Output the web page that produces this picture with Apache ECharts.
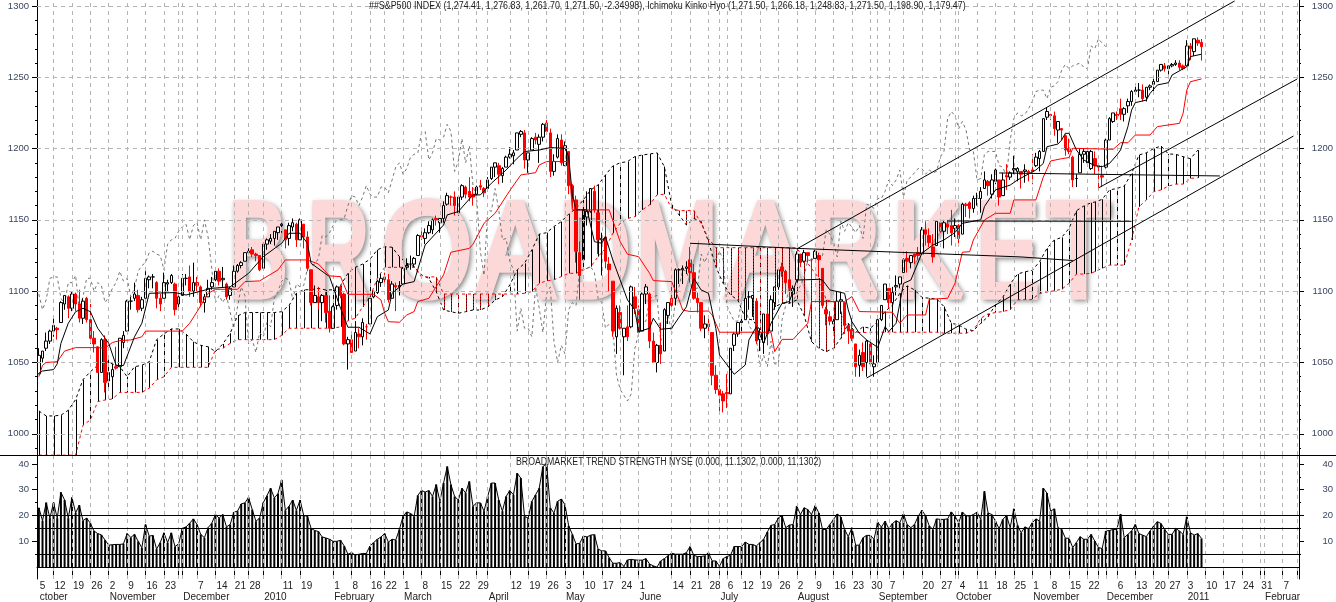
<!DOCTYPE html>
<html><head><meta charset="utf-8">
<style>html,body{margin:0;padding:0;background:#fff;overflow:hidden}#c{width:1336px;height:602px}</style>
<script src="https://cdn.jsdelivr.net/npm/echarts@6/dist/echarts.min.js"></script>
</head><body><div id="c"></div>
<script>
const open=[
1042,1053,1060,1065,1072,1074,1078,1091,1096,1088,
1098,1091,1081,1095,1080,1067,1061,1043,1066,1037,
1040,1047,1047,1064,1072,1093,1095,1097,1088,1095,
1108,1110,1106,1095,1095,1105,1106,1105,1091,1097,
1109,1110,1100,1106,1103,1092,1096,1103,1108,1114,
1108,1105,1097,1103,1114,1118,1121,1127,1129,1126,
1125,1116,1133,1135,1137,1141,1146,1143,1137,1145,
1147,1136,1147,1138,1115,1092,1096,1092,1097,1086,
1074,1090,1103,1098,1063,1066,1058,1070,1068,1075,
1077,1096,1099,1106,1110,1108,1095,1104,1103,1105,
1117,1119,1119,1125,1139,1137,1141,1143,1151,1148,
1151,1161,1166,1166,1155,1166,1173,1170,1168,1168,
1174,1172,1172,1179,1187,1188,1181,1187,1194,1195,
1199,1210,1211,1192,1199,1208,1203,1208,1218,1211,
1184,1194,1206,1188,1198,1174,1164,1127,1122,1152,
1156,1170,1155,1136,1138,1119,1107,1068,1085,1068,
1075,1075,1096,1087,1072,1098,1098,1065,1050,1062,
1058,1083,1095,1095,1115,1115,1116,1122,1113,1095,
1092,1074,1077,1071,1041,1031,1028,1029,1028,1062,
1070,1078,1080,1096,1095,1093,1066,1064,1084,1072,
1092,1103,1117,1114,1108,1098,1108,1126,1121,1127,
1122,1123,1125,1116,1087,1082,1077,1080,1093,1092,
1076,1073,1063,1048,1057,1050,1063,1047,1050,1080,
1094,1102,1092,1103,1105,1113,1123,1120,1126,1127,
1126,1143,1139,1131,1132,1148,1142,1147,1146,1144,
1146,1140,1161,1162,1158,1165,1165,1172,1177,1168,
1177,1178,1167,1181,1180,1185,1184,1184,1184,1184,
1185,1188,1193,1198,1222,1224,1223,1213,1214,1209,
1200,1194,1179,1183,1196,1190,1186,1193,1188,1181,
1187,1206,1219,1224,1228,1224,1230,1233,1240,1241,
1241,1236,1243,1245,1247,1255,1258,1256,1258,1259,
1260,1258,1258,1272,1268,1276,1274.41];
const close=[
1055,1058,1065,1072,1076,1073,1092,1097,1088,1098,
1091,1081,1093,1080,1067,1063,1043,1066,1036,1043,
1045,1046,1067,1069,1093,1093,1098,1087,1094,1109,
1110,1110,1095,1091,1106,1106,1111,1087,1096,1109,
1109,1100,1106,1104,1092,1096,1102,1106,1114,1107,
1109,1096,1102,1114,1118,1120,1127,1128,1126,1125,
1115,1133,1136,1137,1142,1145,1147,1136,1146,1148,
1136,1150,1138,1116,1092,1097,1092,1097,1085,1074,
1089,1103,1097,1063,1066,1057,1071,1068,1078,1075,
1095,1100,1107,1109,1108,1094,1105,1103,1104,1116,
1118,1119,1123,1139,1138,1141,1146,1150,1150,1151,
1160,1167,1166,1160,1166,1174,1168,1166,1166,1173,
1173,1169,1178,1187,1190,1182,1186,1194,1196,1197,
1211,1212,1192,1197,1207,1206,1208,1217,1212,1184,
1191,1207,1190,1202,1174,1165,1128,1111,1157,1156,
1172,1157,1136,1137,1121,1115,1072,1088,1074,1074,
1068,1103,1088,1071,1098,1103,1065,1050,1062,1056,
1087,1092,1090,1115,1115,1116,1117,1113,1095,1092,
1074,1077,1075,1041,1031,1027,1023,1028,1060,1070,
1078,1079,1095,1096,1097,1065,1071,1084,1070,1094,
1103,1115,1114,1106,1102,1102,1126,1120,1127,1125,
1122,1128,1122,1090,1084,1079,1079,1093,1094,1076,
1072,1067,1047,1055,1047,1065,1049,1049,1080,1090,
1105,1092,1099,1104,1110,1122,1121,1125,1124,1125,
1143,1140,1134,1124,1149,1142,1148,1145,1141,1146,
1137,1161,1160,1158,1165,1165,1170,1178,1174,1178,
1185,1166,1178,1180,1183,1186,1186,1182,1185,1183,
1184,1194,1198,1221,1226,1223,1214,1219,1213,1199,
1198,1178,1179,1196,1198,1198,1198,1188,1187,1180,
1206,1221,1225,1223,1224,1228,1233,1240,1241,1241,
1235,1243,1244,1247,1255,1259,1256,1258,1259,1260,
1257,1256,1272,1270,1277,1274,1271.5];
const low=[
1042,1050,1058,1063,1068,1066,1078,1087,1081,1086,
1086,1078,1077,1078,1063,1057,1043,1043,1029,1030,
1033,1045,1047,1060,1072,1087,1093,1085,1086,1095,
1102,1102,1088,1086,1095,1100,1105,1083,1088,1097,
1104,1096,1096,1100,1089,1085,1096,1101,1107,1104,
1103,1094,1094,1103,1113,1116,1121,1126,1124,1121,
1114,1116,1129,1133,1132,1136,1141,1130,1132,1142,
1131,1136,1130,1114,1090,1092,1087,1079,1078,1071,
1074,1087,1095,1062,1045,1057,1058,1060,1062,1066,
1077,1095,1098,1103,1106,1092,1095,1086,1097,1105,
1115,1115,1117,1125,1136,1133,1140,1140,1146,1141,
1148,1160,1160,1153,1153,1164,1165,1163,1160,1165,
1171,1166,1170,1178,1180,1175,1176,1187,1193,1189,
1199,1208,1186,1183,1199,1203,1190,1205,1210,1180,
1181,1193,1188,1188,1168,1158,1120,1094,1122,1146,
1155,1155,1126,1111,1116,1100,1068,1056,1073,1041,
1065,1074,1084,1070,1072,1091,1060,1050,1043,1049,
1058,1077,1089,1090,1105,1105,1112,1106,1094,1085,
1072,1067,1071,1034,1028,1015,1015,1018,1028,1058,
1068,1072,1080,1087,1082,1063,1058,1056,1062,1072,
1087,1101,1110,1098,1094,1089,1108,1117,1120,1120,
1107,1123,1110,1088,1076,1076,1069,1080,1084,1070,
1063,1065,1040,1040,1044,1040,1048,1040,1050,1079,
1094,1088,1090,1097,1102,1113,1113,1116,1119,1122,
1126,1132,1131,1120,1132,1141,1130,1140,1132,1138,
1131,1140,1152,1151,1155,1160,1155,1172,1167,1165,
1175,1160,1167,1171,1178,1182,1177,1172,1176,1177,
1175,1187,1184,1198,1220,1220,1209,1204,1206,1195,
1196,1173,1173,1183,1190,1188,1185,1182,1173,1173,
1186,1206,1218,1220,1220,1219,1225,1230,1238,1236,
1233,1233,1241,1240,1247,1254,1254,1252,1257,1258,
1255,1255,1258,1262,1265,1272,1261.7];
const high=[
1060,1058,1071,1073,1081,1075,1093,1097,1097,1100,
1099,1101,1095,1096,1091,1072,1061,1067,1069,1052,
1046,1061,1067,1072,1094,1096,1106,1101,1096,1114,
1111,1112,1107,1098,1113,1108,1112,1106,1097,1112,
1112,1118,1120,1110,1104,1098,1108,1110,1116,1116,
1117,1106,1103,1118,1119,1121,1127,1130,1131,1127,
1125,1134,1137,1140,1142,1145,1150,1143,1148,1151,
1148,1151,1147,1142,1115,1104,1103,1098,1100,1097,
1090,1104,1104,1099,1068,1071,1079,1074,1081,1077,
1095,1100,1108,1112,1113,1112,1107,1106,1107,1117,
1123,1125,1124,1140,1142,1144,1149,1151,1153,1151,
1163,1169,1167,1170,1167,1175,1174,1180,1173,1174,
1178,1173,1180,1187,1190,1190,1187,1195,1201,1199,
1211,1213,1213,1197,1208,1211,1210,1218,1220,1214,
1196,1210,1210,1205,1198,1175,1167,1135,1164,1170,
1172,1174,1157,1141,1148,1124,1107,1090,1090,1074,
1090,1104,1103,1090,1099,1105,1099,1071,1063,1078,
1088,1092,1105,1116,1116,1118,1121,1131,1119,1099,
1092,1083,1082,1071,1048,1034,1030,1042,1060,1071,
1078,1082,1100,1100,1097,1095,1074,1084,1087,1097,
1103,1115,1120,1115,1115,1104,1128,1126,1129,1127,
1123,1129,1127,1116,1089,1086,1081,1100,1100,1092,
1076,1081,1063,1059,1064,1066,1065,1055,1083,1090,
1105,1102,1103,1111,1110,1123,1128,1125,1126,1131,
1145,1149,1144,1140,1149,1150,1150,1150,1157,1151,
1147,1162,1162,1163,1167,1169,1173,1184,1178,1182,
1186,1178,1183,1189,1184,1195,1187,1184,1189,1185,
1196,1197,1199,1221,1229,1224,1226,1219,1214,1210,
1207,1195,1182,1200,1200,1199,1199,1198,1188,1188,
1207,1222,1225,1226,1235,1229,1235,1241,1246,1246,
1245,1243,1245,1250,1255,1259,1260,1258,1260,1262,
1262,1259,1276,1274,1277,1278,1276.83];
const tenkan=[[0,1042.4],[1,1044],[4,1045],[5,1049],[6,1063.4],[8,1077.5],[10,1085.6],[12,1088],[14,1085.6],[16,1074],[18,1067],[19,1063.4],[21,1048],[23,1047.8],[26,1068],[28,1077.5],[30,1098.5],[37,1099],[40,1097.3],[47,1102],[52,1103],[57,1112.5],[61,1124.2],[66,1133.6],[68,1140.6],[71,1140.6],[73,1133.6],[74,1119.5],[79,1110.2],[82,1088],[84,1074.7],[87,1074.7],[90,1070],[92,1082.1],[95,1086.8],[96,1098.5],[99,1105],[102,1106.7],[105,1132.4],[110,1146.4],[111,1153.5],[114,1155.8],[118,1167.5],[120,1167.5],[123,1175.7],[127,1185],[130,1193.2],[132,1197.9],[136,1199],[139,1200.7],[143,1200.2],[144,1194.4],[145,1167.5],[146,1157],[149,1157],[151,1134.7],[153,1133.6],[154,1138.3],[156,1121.9],[160,1093.8],[162,1086.8],[163,1071.6],[166,1074],[167,1081],[169,1073.3],[172,1074],[174,1081.7],[176,1089],[178,1109],[180,1100.9],[182,1098.5],[184,1073.9],[185,1055.3],[189,1041.7],[192,1048.2],[193,1065.8],[195,1075],[197,1063.4],[199,1077.5],[202,1091.5],[204,1092.7],[206,1107.8],[212,1108.3],[213,1107.8],[215,1100.9],[219,1098.5],[220,1086.8],[221,1078.6],[223,1070.5],[225,1065.8],[228,1060.6],[230,1075.1],[231,1071.6],[233,1077.5],[234,1091.5],[235,1105.5],[237,1107.8],[240,1126.6],[243,1132.4],[246,1135.9],[249,1141.1],[251,1147.6],[256,1150],[257,1159.3],[260,1171],[264,1174.4],[266,1178],[271,1185],[273,1189.6],[274,1201.3],[277,1203.2],[278,1206],[279,1210.7],[280,1210.7],[282,1199],[284,1192],[287,1188],[289,1187.3],[291,1189.6],[293,1195.5],[294,1199],[296,1215.4],[297,1227],[298,1232.2],[301,1234],[302,1238.7],[304,1244.6],[307,1246.2],[308,1251.6],[312,1257.4],[313,1264.5],[316,1266.18]];
const kijun=[[0,1040],[1,1048],[2,1050],[5,1050.5],[7,1058],[10,1060.4],[16,1060.4],[18,1060],[20,1064],[22,1065.3],[25,1065.8],[28,1068],[29,1072],[39,1072],[41,1077.5],[43,1085.6],[46,1098.5],[48,1101.3],[54,1101.3],[56,1106.7],[60,1107.2],[65,1114.9],[67,1121.9],[73,1121.9],[76,1119],[79,1110.7],[82,1110.2],[84,1097.8],[91,1097.8],[93,1093.8],[94,1084.5],[95,1078.6],[98,1078.2],[100,1083.3],[102,1085.7],[103,1092.7],[106,1095],[110,1111.4],[112,1127.3],[117,1130],[118,1132.9],[121,1147.6],[124,1154.6],[128,1170.5],[131,1181.5],[135,1183.1],[136,1188.5],[138,1190.9],[144,1190.9],[145,1157],[155,1157],[158,1134.7],[160,1125.9],[163,1124.2],[166,1112.5],[167,1107.4],[172,1106.7],[174,1094],[175,1086.8],[177,1085.7],[182,1086.1],[183,1083.3],[185,1071.2],[199,1071.2],[200,1057.6],[202,1066.2],[205,1066.2],[209,1077.5],[210,1092.7],[219,1092.7],[221,1096.2],[223,1085.7],[232,1085.2],[234,1077.5],[236,1083.3],[241,1083.3],[242,1094.3],[247,1095],[249,1105.5],[251,1127.3],[253,1127.7],[254,1135.9],[257,1149.9],[260,1154.6],[264,1154.6],[265,1164],[271,1164],[273,1180],[275,1191.3],[278,1192.9],[280,1193.7],[281,1200.2],[292,1199.5],[294,1204.1],[296,1204.1],[298,1209.5],[302,1209.5],[304,1215.4],[310,1217.7],[311,1224.7],[312,1241],[313,1246.9],[316,1248.83]];
const spanA=[
1016,1012.5,1012.5,1013,1016.5,1024,1038,1043.5,1048,1051,
1049,1047,1040,1047,1048,1050.5,1066,1070,1073.5,1073.5,
1070,1064.5,1062,1061,1057.6,1063,1070.5,1082.6,1085,1085,
1085,1085,1085,1085.6,1090,1098.5,1101,1101,1102,1100.8,
1101,1104,1112.5,1116.7,1119,1122.4,1129,1131.2,1130.8,1124.2,
1119.5,1117.2,1111.4,1109,1099.7,1086.8,1085.6,1084.5,1085.6,1086.8,
1086.8,1089,1093.8,1096,1104.4,1114.9,1119.5,1128.9,1140,1141,
1145.3,1148.8,1154,1158,1164,1171,1174.5,1181.5,1187.8,1190,
1190.9,1194.4,1195.5,1196.2,1197,1187.4,1160.5,1153.5,1146.4,1151,
1148.8,1134.7,1117.2,1105.5,1097.3,1093.8,1081,1079.8,1072.8,1070.5,
1089,1091.5,1091.5,1093.8,1083,1064.6,1060,1057.6,1060,1067,
1077.4,1071,1075,1074,1078.7,1085.7,1090.3,1098.5,1103.7,1100.9,
1095.7,1095,1094.6,1089.2,1077.5,1076.3,1073.3,1072.3,1077.5,1082.2,
1090.3,1095.7,1105,1112,1113.6,1114.6,1120.7,1130,1135.9,1137.7,
1144,1156.4,1159.7,1162,1162.5,1164.4,1171,1172,1173.7,1182.6,
1195.5,1197,1200,1201.8,1196.2,1196,1194.3,1192.9,1198.9];
const spanB=[
985,985,985,985,985,985,1006,1009.7,1022.5,1023.7,
1024.4,1029,1029,1029,1029,1032,1037.7,1040,1046.6,1046.6,
1046.6,1046.6,1046.6,1046.6,1058.8,1060,1063.4,1066,1066,1066,
1066,1066,1066,1069,1074,1074,1074,1074,1074,1074,
1074,1075,1079.3,1081,1089,1096,1109,1116.7,1116.7,1116.7,
1116.7,1116.7,1110,1110,1110,1098,1098,1098,1098,1098,
1098,1098,1098,1098,1098,1098,1098.5,1099.7,1105.5,1107.2,
1108,1110.2,1112.5,1112.5,1114.9,1117.2,1124.2,1130,1140.6,1147.6,
1151,1152.3,1157,1160.5,1167.5,1168,1158,1156.5,1156.5,1156.5,
1147.6,1137,1130.5,1130.5,1130.5,1130.5,1130.5,1130.5,1130.5,1130.5,
1130.5,1130.5,1130.5,1130.3,1123,1116,1109,1093.8,1092.6,1085.6,
1072.8,1071,1071,1071.2,1071.2,1071.2,1071.2,1071.2,1071.2,1071.2,
1071.2,1071.2,1071.2,1070.5,1070.5,1070.5,1070.5,1072.3,1081,1084,
1085,1085.7,1087,1093.9,1094.2,1094.2,1098.4,1099.4,1100.3,1101.3,
1105.5,1112,1112,1112.5,1113.7,1116,1118.3,1118.3,1118.3,1135.9,
1159.2,1163.9,1169.8,1171,1173.7,1175.1,1175.1,1179.1,1179.47];
const strength=[
23,18,25,19,25,19,29,26,19,27,
21,24,18,19,17,14,13,12.5,10.5,8.5,
8.7,8.8,8.8,9,13,11.5,12.7,10,7.5,16.5,
12,12.3,7,9.5,13.3,9.5,13.3,8,9,15,
15.6,17,18.7,16.5,12.7,11.4,15.3,17,20.4,19,
20.4,15.6,16.5,21.3,21.7,24.5,24.9,27,22.3,17.8,
19,25,27.7,30.6,26.8,28.5,33.8,22,23.6,26,
22,26,20,19.7,15,14.2,13.8,11.7,11.3,10.8,
10,10,10.4,8.2,5,5.6,4.7,5,5.3,5.3,
8.2,9.5,10.8,11.7,13,9.7,10.8,10.5,14.6,19.7,
21.4,20.8,19.7,27.8,29.7,29.1,29.7,27.4,32,25.5,
32.6,39,32,27.4,26,30.6,28.7,33.2,23.6,24.9,
24.9,21.7,27.4,32.6,32.6,26,21.7,27.4,29.7,28,
36.4,34.5,19.7,19,25.5,28,30.6,39,40,23,
21,25.5,26.4,24.2,16,12.7,9,9.2,12,11.7,
12.4,12.6,7,6.3,6.3,3.7,1.5,1.5,1.8,0.3,
2.8,3,2.8,2.7,2.7,3.3,1.2,0.5,0,2.4,
3.3,4.4,5.4,5,5,5,5.6,8,4.6,4.1,
4.1,4.4,5.6,2.4,2.4,0.3,3.3,4.1,4.6,8,
8,7.9,9.7,8.8,8.8,8.2,9.5,10.8,13.6,16.2,
16.5,19.1,20,15.3,16.3,16.5,23.6,20.4,23,22.3,
20.4,23.8,21,14.6,14.6,16.5,18.5,20.6,19.4,14.6,
11.8,15.3,8.5,8.5,11.4,12.3,12.3,10.8,17.4,15.5,
17.8,14.9,16.9,18,17.2,20.6,16.5,15.3,16.5,19.7,
22,20,16,14.6,18.7,18.5,18.5,18.7,21.4,19.7,
17.2,21.3,20,19.7,20.4,21.3,18.5,29.4,21,20.4,
17.8,14.9,18.5,20,15.3,22.6,16.2,13.3,15.6,14.9,
17.2,18.7,17.8,30.6,28.7,21.7,22.6,15.3,14.6,11.2,
11.2,7.6,9.5,11.8,10.8,10.8,12.7,10.1,7.6,7.2,
14,14.2,14.6,14.6,20.6,11.4,12.7,14,16.5,13,
12.4,11.8,14,15.9,17.6,16.9,14.6,12.7,12.7,15,
14,12.7,19.5,13.3,12.4,13,11.1302];
const channels=[
 [[206,1129.6],[325,1303.5]],
 [[288,1172.4],[342,1248.8]],
 [[225,1039.1],[341,1208.8]],
 [[177,1133.6],[206,1130],[267,1124],[281,1121.5]],
 [[247,1149.2],[297,1149]],
 [[261,1182.9],[321,1180.8]]
];
const dayTicks=[[0,'5'],[4,'12'],[9,'19'],[14,'26'],[19,'2'],[24,'9'],[29,'16'],[34,'23'],[38,''],[39,''],[43,'7'],[48,'14'],[53,'21'],[57,'28'],[61,''],[66,'11'],[71,'19'],[80,'1'],[85,'8'],[90,'16'],[94,'22'],[99,'1'],[104,'8'],[109,'15'],[114,'22'],[119,'29'],[122,''],[128,'12'],[133,'19'],[138,'26'],[143,'3'],[148,'10'],[153,'17'],[158,'24'],[163,'1'],[172,'14'],[177,'21'],[182,'28'],[185,''],[187,'6'],[191,'12'],[196,'19'],[201,'26'],[206,'2'],[211,'9'],[216,'16'],[221,'23'],[226,'30'],[228,''],[231,'7'],[235,''],[240,'20'],[245,'27'],[249,''],[250,'4'],[255,'11'],[260,'18'],[265,'25'],[270,'1'],[275,'8'],[280,'15'],[285,'22'],[288,''],[290,''],[293,'6'],[298,'13'],[303,'20'],[307,'27'],[312,'3'],[317,'10'],[322,'17'],[327,'24'],[332,'31'],[333,''],[338,'7'],[342,'']];
const monthTicks=[[0,'ctober'],[19,'November'],[39,'December'],[61,'2010'],[80,'February'],[99,'March'],[122,'April'],[143,'May'],[163,'June'],[185,'July'],[206,'August'],[228,'September'],[249,'October'],[270,'November'],[290,'December'],[312,'2011'],[333,'Februar']];
const priceTicks=[1000,1050,1100,1150,1200,1250,1300];
const priceMinor=[990,1010,1020,1030,1040,1060,1070,1080,1090,1110,1120,1130,1140,1160,1170,1180,1190,1210,1220,1230,1240,1260,1270,1280,1290];
const strengthTicks=[10,20,30,40];
const strengthMinor=[5,15,25,35];
const strengthLevels=[0,5,15,20];
const titleUpper='##S&P500 INDEX (1,274.41, 1,276.83, 1,261.70, 1,271.50, -2.34998), Ichimoku Kinko Hyo (1,271.50, 1,266.18, 1,248.83, 1,271.50, 1,198.90, 1,179.47)';
const titleLower='BROADMARKET TREND STRENGTH NYSE (0.000, 11.1302, 0.000, 11.1302)';
const watermarkLetters=['B','R','O','A','D','M','A','R','K','E','T'];
const watermarkLeft=[228,308,382,477,559,636,727,811,893,976,1047];
const watermarkScale=[.67,.64,.87,.86,.74,.74,.86,.72,.78,.71,.78];

const FONT='"Liberation Sans",Arial,sans-serif';
const SLOTS=343;
const categories=Array.from({length:SLOTS},(_,i)=>String(i));
const candles=open.map((o,i)=>{
  const v=[o,close[i],low[i],high[i]];
  return i===148?{value:v,itemStyle:{color:'#000'}}:v;
});
const cloud=spanA.map((a,k)=>[k<144?2*k:2*k-1,a,spanB[k]]);
const chikou=close.slice(26).map((v,i)=>[i,v]);
const dayMap=new Map(dayTicks),monthMap=new Map(monthTicks);
const vGrid=dayTicks.slice(1).map(d=>({xAxis:d[0]}));

function drawHatch(params,api){
  const i=api.value(0),a=api.value(1),b=api.value(2);
  const p1=api.coord([i,a]),p2=api.coord([i,b]);
  const x=Math.round(p1[0])+.5;
  const shape={x1:x,y1:p1[1],x2:x,y2:p2[1]};
  if(a>=b) return {type:'line',shape,style:{stroke:'#000',lineWidth:1}};
  return {type:'group',children:[
    {type:'line',shape,style:{stroke:'#e00000',lineWidth:1}},
    {type:'line',shape,style:{stroke:'#000',lineWidth:1,lineDash:[1,2]}}
  ]};
}
const helper=(xi,yi,lines)=>({type:'line',xAxisIndex:xi,yAxisIndex:yi,data:[],z:1,silent:true,
  markLine:{silent:true,symbol:'none',animation:false,label:{show:false},lineStyle:{color:'#b4b4b4',type:[4,4],width:1},data:lines}});
const yAxis=(grid,pos,min,max,values,len,label)=>({type:'value',gridIndex:grid,position:pos,min,max,
  splitLine:{show:false},
  axisLine:{show:label,onZero:false,lineStyle:{color:'#000',width:1}},
  axisTick:{show:true,customValues:values,length:len,lineStyle:{color:'#000'}},
  axisLabel:label?{show:true,customValues:values,formatter:v=>String(v),color:'#3a4660',fontFamily:FONT,fontSize:9.5,
     align:'right',margin:pos==='left'?8:34}:{show:false}});
const xBase=(grid)=>({type:'category',gridIndex:grid,data:categories,boundaryGap:true,
  axisLine:{show:false},axisTick:{show:false},axisLabel:{show:false},splitLine:{show:false}});
const caption=(text,x,y,sx)=>({type:'text',x,y,scaleX:sx,z:10,silent:true,
  style:{text,font:'10px "Liberation Sans"',fill:'#222',textAlign:'left',textVerticalAlign:'middle'}});
const watermark=(k,withShadow)=>({type:'text',x:watermarkLeft[k],y:259,scaleX:watermarkScale[k],z:withShadow?0:1,silent:true,
  style:Object.assign({text:watermarkLetters[k],font:'133px "Liberation Sans"',fill:'#fcd8d8',stroke:'#fcd8d8',lineWidth:7,lineJoin:'round',
    textAlign:'left',textVerticalAlign:'middle'},
    withShadow?{textShadowBlur:5,textShadowColor:'rgba(90,90,90,.6)',textShadowOffsetX:2,textShadowOffsetY:2}:{})});

const PMIN=985.1,PMAX=1304.2,SMIN=-4.6,SMAX=43.46;
const option={
  animation:false,backgroundColor:'#fff',
  graphic:[
    ...watermarkLetters.map((t,k)=>watermark(k,true)),
    ...watermarkLetters.map((t,k)=>watermark(k,false)),
    caption(titleUpper,369,6.5,.887),
    caption(titleLower,516,462.5,.874),
    {type:'line',z:10,silent:true,shape:{x1:0,y1:455.5,x2:1336,y2:455.5},style:{stroke:'#000',lineWidth:1}}
  ],
  grid:[
    {left:37,right:37,top:0,height:455,containLabel:false},
    {left:37,right:37,top:455,height:125,containLabel:false}
  ],
  xAxis:[
    xBase(0),
    {type:'category',gridIndex:1,data:categories,boundaryGap:true,position:'bottom',
      axisLine:{show:false},
      axisTick:{show:true,alignWithLabel:true,length:11,interval:i=>dayMap.has(i)&&i>0,lineStyle:{color:'#000'}},
      axisLabel:{show:true,interval:i=>dayMap.get(i)?true:false,formatter:(v,i)=>dayMap.get(+v)||'',
        align:'left',margin:2,padding:[0,0,0,1],color:'#222',fontFamily:FONT,fontSize:10,hideOverlap:false}},
    {type:'category',gridIndex:1,data:categories,boundaryGap:true,position:'bottom',offset:11,
      axisLine:{show:true,lineStyle:{color:'#000'}},
      axisTick:{show:true,alignWithLabel:true,length:11,interval:i=>monthMap.has(i)&&i>0,lineStyle:{color:'#000'}},
      axisLabel:{show:true,interval:i=>monthMap.has(i),formatter:(v)=>monthMap.get(+v)||'',
        align:'left',margin:2,padding:[0,0,0,1],color:'#222',fontFamily:FONT,fontSize:10,hideOverlap:false}}
  ],
  yAxis:[
    yAxis(0,'left',PMIN,PMAX,priceTicks,5,true),
    yAxis(0,'left',PMIN,PMAX,priceMinor,2,false),
    yAxis(0,'right',PMIN,PMAX,priceTicks,5,true),
    yAxis(0,'right',PMIN,PMAX,priceMinor,2,false),
    yAxis(1,'left',SMIN,SMAX,strengthTicks,5,true),
    yAxis(1,'left',SMIN,SMAX,strengthMinor,2,false),
    yAxis(1,'right',SMIN,SMAX,strengthTicks,5,true),
    yAxis(1,'right',SMIN,SMAX,strengthMinor,2,false)
  ],
  series:[
    helper(0,0,vGrid.concat(priceTicks.map(v=>({yAxis:v})))),
    helper(1,4,vGrid),
    {type:'custom',name:'cloud',xAxisIndex:0,yAxisIndex:0,z:2,silent:true,clip:true,data:cloud,encode:{x:0,y:[1,2]},renderItem:drawHatch},
    {type:'line',name:'spanA',xAxisIndex:0,yAxisIndex:0,z:3,silent:true,symbol:'none',data:cloud.map(c=>[c[0],c[1]]),lineStyle:{color:'#000',width:1,type:[3,3]}},
    {type:'line',name:'spanB',xAxisIndex:0,yAxisIndex:0,z:3,silent:true,symbol:'none',data:cloud.map(c=>[c[0],c[2]]),lineStyle:{color:'#f00',width:1,type:[3,3]}},
    {type:'line',name:'chikou',xAxisIndex:0,yAxisIndex:0,z:3,silent:true,symbol:'none',data:chikou,lineStyle:{color:'#666',width:.9,type:[3,3]}},
    {type:'candlestick',name:'S&P500',xAxisIndex:0,yAxisIndex:0,z:4,silent:true,barWidth:3,data:candles,
      itemStyle:{color:'#fff',color0:'#f00',borderColor:'#000',borderColor0:'#f00',borderWidth:1}},
    {type:'line',name:'kijun',xAxisIndex:0,yAxisIndex:0,z:5,silent:true,symbol:'none',data:kijun,lineStyle:{color:'#f00',width:1}},
    {type:'line',name:'tenkan',xAxisIndex:0,yAxisIndex:0,z:5,silent:true,symbol:'none',data:tenkan,lineStyle:{color:'#000',width:1}},
    ...channels.map(c=>({type:'line',xAxisIndex:0,yAxisIndex:0,z:6,silent:true,symbol:'none',data:c,lineStyle:{color:'#000',width:1}})),
    {type:'bar',name:'strength',xAxisIndex:1,yAxisIndex:4,z:3,silent:true,barWidth:2,data:strength,itemStyle:{color:'#000'}},
    {type:'line',name:'strengthLine',xAxisIndex:1,yAxisIndex:4,z:4,silent:true,symbol:'none',data:strength,lineStyle:{color:'#000',width:1},
      markLine:{silent:true,symbol:'none',animation:false,label:{show:false},lineStyle:{color:'#000',type:'solid',width:1},data:strengthLevels.map(v=>({yAxis:v}))}}
  ]
};
const chart=echarts.init(document.getElementById('c'),null,{renderer:'canvas'});
chart.setOption(option);
</script></body></html>
